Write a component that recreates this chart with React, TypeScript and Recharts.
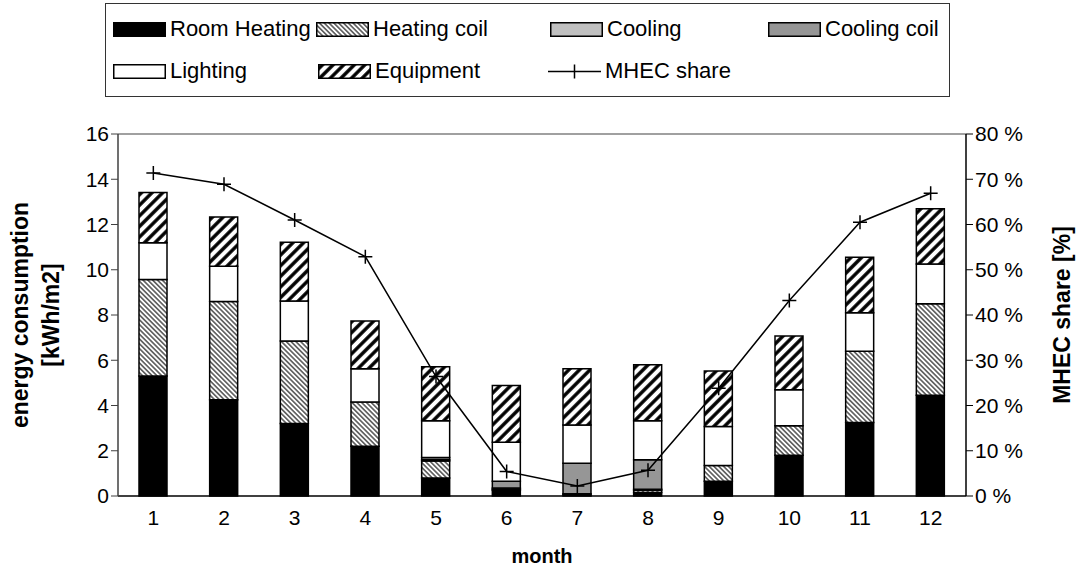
import { ComposedChart, Bar, Line, XAxis, YAxis, ReferenceLine } from 'recharts'

const months = ['1', '2', '3', '4', '5', '6', '7', '8', '9', '10', '11', '12']
const roomHeating = [5.3, 4.25, 3.2, 2.2, 0.8, 0.25, 0.05, 0.15, 0.65, 1.8, 3.25, 4.45]
const heatingCoil = [4.27, 4.35, 3.65, 1.95, 0.75, 0.05, 0, 0.1, 0.7, 1.3, 3.15, 4.05]
const cooling = [0, 0, 0, 0, 0.05, 0.05, 0.05, 0.05, 0, 0, 0, 0]
const coolingCoil = [0, 0, 0, 0, 0.1, 0.3, 1.35, 1.3, 0, 0, 0, 0]
const lighting = [1.62, 1.55, 1.77, 1.47, 1.63, 1.73, 1.69, 1.73, 1.72, 1.6, 1.7, 1.75]
const equipment = [2.22, 2.18, 2.59, 2.11, 2.38, 2.5, 2.48, 2.47, 2.46, 2.37, 2.45, 2.45]
const mhecShare = [71.4, 68.9, 61, 52.9, 26.4, 5.4, 2.2, 5.7, 23.8, 43.2, 60.5, 66.9]

const leftTicks = [0, 2, 4, 6, 8, 10, 12, 14, 16]
const rightTicks = [0, 10, 20, 30, 40, 50, 60, 70, 80]

const data = months.map((month, i) => ({
  month,
  roomHeating: roomHeating[i],
  heatingCoil: heatingCoil[i],
  cooling: cooling[i],
  coolingCoil: coolingCoil[i],
  lighting: lighting[i],
  equipment: equipment[i],
  mhec: mhecShare[i]
}))

const FONT = '"Liberation Sans", Arial, sans-serif'

const series = [
  { key: 'roomHeating', name: 'Room Heating', fill: '#000000' },
  { key: 'heatingCoil', name: 'Heating coil', fill: 'url(#hatchCoil)' },
  { key: 'cooling', name: 'Cooling', fill: '#c0c0c0' },
  { key: 'coolingCoil', name: 'Cooling coil', fill: '#969696' },
  { key: 'lighting', name: 'Lighting', fill: '#ffffff' },
  { key: 'equipment', name: 'Equipment', fill: 'url(#hatchEquip)' }
]

function PlusDot(props: any) {
  const { cx, cy, index } = props
  return (
    <path
      key={`plus-${index}`}
      d={`M${cx - 7},${cy}h14M${cx},${cy - 7}v14`}
      stroke="#000"
      strokeWidth={1.5}
      fill="none"
    />
  )
}

function Swatch({ fill }: { fill: string }) {
  return (
    <svg width={53} height={15} style={{ display: 'block' }}>
      <rect x={0.75} y={0.75} width={51.5} height={13.5} fill={fill} stroke="#000" strokeWidth={1.5} />
    </svg>
  )
}

function LineSwatch() {
  return (
    <svg width={53} height={15} style={{ display: 'block' }}>
      <path d="M0,7.5h53M26.5,0.5v14" stroke="#000" strokeWidth={1.5} fill="none" />
    </svg>
  )
}

// legend entries, placed in two rows inside the box
const legendItems = [
  { label: 'Room Heating', left: 7, row: 0, swatch: <Swatch fill="#000000" /> },
  { label: 'Heating coil', left: 210, row: 0, swatch: <Swatch fill="url(#hatchCoil)" /> },
  { label: 'Cooling', left: 444, row: 0, swatch: <Swatch fill="#c0c0c0" /> },
  { label: 'Cooling coil', left: 662, row: 0, swatch: <Swatch fill="#969696" /> },
  { label: 'Lighting', left: 7, row: 1, swatch: <Swatch fill="#ffffff" /> },
  { label: 'Equipment', left: 212, row: 1, swatch: <Swatch fill="url(#hatchEquip)" /> },
  { label: 'MHEC share', left: 442, row: 1, swatch: <LineSwatch /> }
]

function ChartLegend() {
  return (
    <div
      style={{
        position: 'absolute',
        left: 105,
        top: 3,
        width: 845,
        height: 94,
        border: '1px solid #333',
        boxSizing: 'border-box',
        background: '#fff'
      }}
    >
      {legendItems.map((item) => (
        <div
          key={item.label}
          style={{
            position: 'absolute',
            left: item.left,
            top: item.row === 0 ? 12 : 54,
            height: 26,
            display: 'flex',
            alignItems: 'center',
            gap: 4,
            fontFamily: FONT,
            fontSize: 22,
            color: '#000',
            whiteSpace: 'nowrap'
          }}
        >
          {item.swatch}
          <span>{item.label}</span>
        </div>
      ))}
    </div>
  )
}

export default function App() {
  const tickStyle = { fontFamily: FONT, fontSize: 21, fill: '#000' }

  return (
    <div style={{ position: 'absolute', left: 0, top: 0, width: 1076, height: 581, background: '#fff' }}>
      <ComposedChart
        width={1076}
        height={581}
        data={data}
        margin={{ top: 134, right: 40, bottom: 50, left: 58 }}
        barSize={28}
      >
        <defs>
          <pattern id="hatchCoil" patternUnits="userSpaceOnUse" width={3.4} height={3.4} patternTransform="rotate(-45)">
            <rect width={3.4} height={3.4} fill="#fff" />
            <line x1={1.7} y1={0} x2={1.7} y2={3.4} stroke="#333" strokeWidth={1.3} />
          </pattern>
          <pattern id="hatchEquip" patternUnits="userSpaceOnUse" width={7.5} height={7.5} patternTransform="rotate(45)">
            <rect width={7.5} height={7.5} fill="#fff" />
            <line x1={3.75} y1={0} x2={3.75} y2={7.5} stroke="#000" strokeWidth={3.4} />
          </pattern>
        </defs>
        <XAxis
          dataKey="month"
          tick={tickStyle}
          tickLine={false}
          axisLine={{ stroke: '#000', strokeWidth: 1.5 }}
          height={35}
          tickMargin={8}
        />
        <YAxis
          yAxisId="left"
          domain={[0, 16]}
          ticks={leftTicks}
          tick={tickStyle}
          tickSize={7}
          width={60}
          axisLine={{ stroke: '#404040', strokeWidth: 1.5 }}
          tickLine={{ stroke: '#404040' }}
        />
        <YAxis
          yAxisId="right"
          orientation="right"
          domain={[0, 80]}
          ticks={rightTicks}
          tick={{ ...tickStyle, textAnchor: 'start' }}
          tickFormatter={(v: number) => `${v} %`}
          tickSize={7}
          width={70}
          axisLine={{ stroke: '#000', strokeWidth: 1.5 }}
          tickLine={{ stroke: '#000' }}
        />
        <ReferenceLine yAxisId="left" y={16} stroke="#808080" strokeWidth={1.5} />
        {series.map((s) => (
          <Bar
            key={s.key}
            yAxisId="left"
            dataKey={s.key}
            name={s.name}
            stackId="energy"
            fill={s.fill}
            stroke="#000"
            strokeWidth={1.5}
            isAnimationActive={false}
          />
        ))}
        <Line
          yAxisId="right"
          dataKey="mhec"
          name="MHEC share"
          stroke="#000"
          strokeWidth={1.5}
          dot={PlusDot}
          activeDot={false}
          isAnimationActive={false}
        />
        <text
          transform="translate(20,315) rotate(-90)"
          textAnchor="middle"
          dominantBaseline="central"
          style={{ fontFamily: FONT, fontSize: 23, fontWeight: 700 }}
        >
          energy consumption
        </text>
        <text
          transform="translate(51,315) rotate(-90)"
          textAnchor="middle"
          dominantBaseline="central"
          style={{ fontFamily: FONT, fontSize: 23, fontWeight: 700 }}
        >
          [kWh/m2]
        </text>
        <text
          transform="translate(1062,315) rotate(-90)"
          textAnchor="middle"
          dominantBaseline="central"
          style={{ fontFamily: FONT, fontSize: 23, fontWeight: 700 }}
        >
          MHEC share [%]
        </text>
        <text
          x={542}
          y={556}
          textAnchor="middle"
          dominantBaseline="central"
          style={{ fontFamily: FONT, fontSize: 20, fontWeight: 700 }}
        >
          month
        </text>
      </ComposedChart>
      <ChartLegend />
    </div>
  )
}
